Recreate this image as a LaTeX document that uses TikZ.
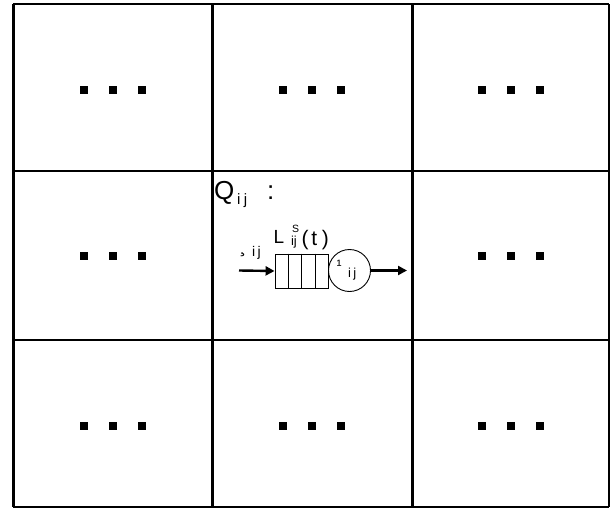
\documentclass[tikz,border=0pt]{standalone}
\usepackage{fontspec}
\setmainfont{Liberation Sans}
\usetikzlibrary{arrows.meta,calc}
\newcommand{\fs}[1]{\fontsize{#1}{#1}\selectfont}
\begin{document}
\begin{tikzpicture}[x=1pt,y=-1pt,
  vline/.style={line width=3pt},
  hline/.style={line width=2.6pt},
  dot/.style={fill=black,minimum size=8pt,inner sep=0pt,outer sep=0pt,rectangle},
  flow/.style={line width=2.4pt,-{Triangle[length=9pt,width=9pt]}},
  thin/.style={line width=0.9pt},
  txt/.style={inner sep=0pt,outer sep=0pt,anchor=base west}]
\useasboundingbox (0,0) rectangle (610,508);
\fill[white] (0,0) rectangle (610,508);
% grid
\foreach \x in {13,212,412,609} \draw[vline] (\x,4) -- (\x,507);
\foreach \y in {4,171,340,507} \draw[hline] (13,\y) -- (609,\y);
% ellipsis squares in the eight outer cells
\foreach \cx/\cy [count=\k] in {112.5/90, 312/90, 510.5/90, 112.5/256, 510.5/256, 112.5/426, 312/426, 510.5/426}{
  \node[dot] (d\k a) at (\cx-29,\cy) {};
  \node[dot] (d\k b) at (\cx,\cy) {};
  \node[dot] (d\k c) at (\cx+29,\cy) {};
}
% title of the centre cell
\node[txt] (qname) at (214,199.5) {\fs{26}Q};
\node[txt] (qidx) at (237,204) {\fs{15}i\hspace{3.5pt}j};
\node[txt] (qcolon) at (267,199.5) {\fs{26}:};
% queue buffer and server
\node[draw,thin,rectangle,minimum width=53pt,minimum height=34pt,inner sep=0pt] (buf) at (301.5,271) {};
\foreach \f in {0.25,0.5,0.75}
  \draw[thin] ($(buf.north west)!\f!(buf.north east)$) -- ($(buf.south west)!\f!(buf.south east)$);
\node[draw,thin,circle,minimum size=42pt,inner sep=0pt] (srv) at (349.5,270.5) {};
\coordinate (src) at (239,270.5);
\coordinate (snk) at (407,270.5);
\draw[flow] (src) -- (buf.west);
\draw[flow] (srv.east) -- (snk);
% arrival rate
\node[txt] (lamsym) at (239.5,252.5) {\fs{20}¸};
\node[txt] (lamidx) at (252,256.5) {\fs{14}i\hspace{2.5pt}j};
% queue length
\node[txt] (lenL) at (273.5,243.5) {\fs{19}L};
\node[txt] (lensup) at (292,232.5) {\fs{10.5}S};
\node[txt] (lensub) at (291,245.5) {\fs{13}ij};
\node[txt] (lenarg) at (301.5,245) {\fs{21}(\hspace{3pt}t\hspace{4.5pt})};
% service rate
\node[txt] (musym) at (336.5,270) {\fs{15}¹};
\node[txt] (muidx) at (348,277) {\fs{13}i\hspace{2.5pt}j};
\end{tikzpicture}
\end{document}
